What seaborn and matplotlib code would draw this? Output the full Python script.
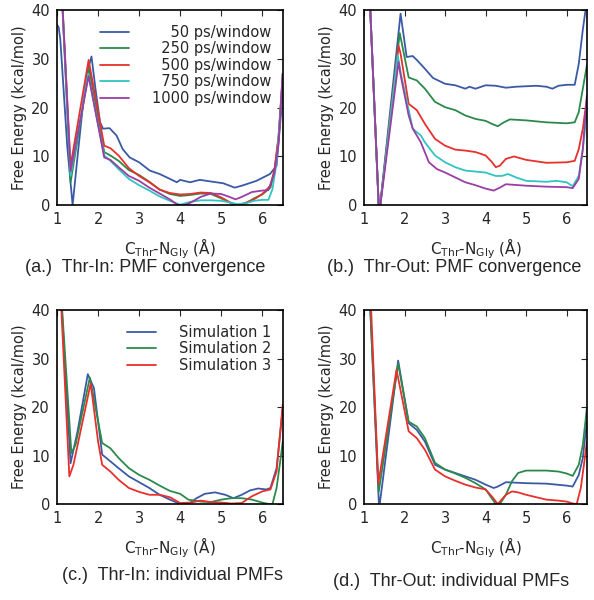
import matplotlib
matplotlib.use("Agg")
import matplotlib.pyplot as plt
import seaborn as sns
import pandas as pd

# ---- panel (a): Thr-In, PMF convergence ----
a50_x = [1.0, 1.04, 1.08, 1.15, 1.25, 1.38, 1.5, 1.65, 1.76, 1.79, 1.84, 1.95, 2.05, 2.12, 2.28, 2.45, 2.6, 2.77, 3.0, 3.26, 3.5, 3.75, 3.92, 4.0, 4.24, 4.48, 4.8, 5.05, 5.33, 5.54, 5.86, 6.19, 6.35, 6.47, 6.5]
a50_y = [37, 36.5, 34, 25, 12, 0, 10, 22, 28.5, 29.0, 30.5, 23, 17, 15.7, 15.8, 14.3, 11.5, 9.8, 8.8, 7.1, 6.4, 5.4, 4.7, 5.2, 4.7, 5.2, 4.8, 4.5, 3.6, 4.1, 5.0, 6.4, 8.1, 20, 26]
a250_x = [1.08, 1.33, 1.78, 2.15, 2.3, 2.5, 2.75, 3.0, 3.25, 3.5, 3.75, 4.0, 4.25, 4.5, 4.75, 5.0, 5.25, 5.4, 5.6, 5.8, 6.0, 6.2, 6.3, 6.4, 6.5]
a250_y = [50, 4.7, 28, 10.9, 10.2, 9.1, 7.2, 6.2, 4.8, 3.2, 2.3, 1.9, 2.1, 2.4, 2.3, 1.4, 0.4, 0.0, 0.4, 1.4, 2.2, 3.6, 7.0, 14.0, 26]
a500_x = [1.08, 1.33, 1.77, 2.15, 2.3, 2.5, 2.75, 3.0, 3.25, 3.5, 3.75, 4.0, 4.25, 4.5, 4.75, 5.0, 5.25, 5.4, 5.6, 5.8, 6.0, 6.2, 6.3, 6.4, 6.5]
a500_y = [50, 8.1, 29.8, 12.2, 11.7, 10.2, 7.6, 6.0, 4.7, 3.2, 2.5, 2.2, 2.3, 2.6, 2.5, 1.6, 0.4, 0.0, 0.5, 1.2, 2.3, 4.0, 7.4, 14.3, 27]
a750_x = [1.08, 1.33, 1.76, 2.15, 2.3, 2.5, 2.75, 3.0, 3.25, 3.5, 3.75, 4.0, 4.25, 4.5, 4.75, 5.0, 5.25, 5.4, 5.6, 5.8, 6.0, 6.15, 6.25, 6.35, 6.45, 6.5]
a750_y = [50, 6.0, 27, 10.2, 9.1, 7.4, 5.4, 4.1, 3.0, 1.8, 0.9, 0.1, 0.7, 1.0, 1.0, 0.9, 0.5, 0.2, 0.4, 0.9, 1.1, 1.1, 3.3, 8.8, 20, 27]
a1000_x = [1.08, 1.33, 1.77, 2.15, 2.3, 2.5, 2.75, 3.0, 3.25, 3.5, 3.75, 3.95, 4.1, 4.25, 4.5, 4.75, 5.0, 5.2, 5.35, 5.5, 5.75, 6.0, 6.15, 6.3, 6.4, 6.5]
a1000_y = [50, 7.0, 26.5, 9.8, 9.3, 7.8, 6.0, 5.0, 3.6, 2.4, 1.2, 0.0, 0.0, 0.5, 1.7, 2.4, 2.3, 1.7, 1.2, 1.7, 2.7, 3.0, 3.1, 6.7, 12.9, 27]

# ---- panel (b): Thr-Out, PMF convergence ----
b50_x = [1.1, 1.37, 1.9, 2.05, 2.2, 2.3, 2.5, 2.7, 3.0, 3.25, 3.5, 3.6, 3.75, 4.0, 4.25, 4.5, 4.75, 5.0, 5.25, 5.5, 5.65, 5.8, 6.0, 6.2, 6.3, 6.4, 6.5]
b50_y = [50, -2, 39.3, 30.4, 30.6, 29.8, 28.0, 26.1, 24.9, 24.6, 23.9, 24.3, 23.9, 24.6, 24.5, 24.1, 24.3, 24.4, 24.5, 24.3, 23.9, 24.5, 24.7, 24.7, 29.0, 36.0, 42]
b250_x = [1.1, 1.37, 1.88, 2.1, 2.3, 2.5, 2.75, 3.0, 3.25, 3.5, 3.75, 4.0, 4.15, 4.3, 4.45, 4.6, 5.0, 5.5, 6.0, 6.2, 6.3, 6.4, 6.5]
b250_y = [50, -2, 35.3, 26.2, 25.6, 23.9, 21.2, 20.1, 19.5, 18.4, 17.7, 17.3, 16.7, 16.2, 17.0, 17.6, 17.4, 17.0, 16.8, 17.0, 19.1, 23.9, 28.7]
b500_x = [1.1, 1.37, 1.85, 1.9, 2.1, 2.3, 2.5, 2.75, 3.0, 3.25, 3.5, 3.75, 4.0, 4.15, 4.25, 4.35, 4.5, 4.7, 5.0, 5.5, 6.0, 6.2, 6.3, 6.4, 6.5]
b500_y = [50, -2, 32.7, 31.1, 20.8, 19.5, 16.7, 13.6, 12.2, 11.4, 11.2, 10.9, 10.2, 8.9, 7.8, 8.1, 9.5, 10.0, 9.3, 8.7, 8.8, 9.1, 11.5, 15.7, 21.9]
b750_x = [1.1, 1.37, 1.83, 1.9, 2.2, 2.4, 2.5, 2.75, 3.0, 3.25, 3.5, 4.0, 4.25, 4.4, 4.55, 4.75, 5.0, 5.5, 5.75, 6.0, 6.15, 6.3, 6.4, 6.5]
b750_y = [50, -2, 30.8, 27.3, 15.7, 14.3, 12.9, 10.2, 8.8, 7.8, 7.1, 6.7, 6.0, 6.0, 6.4, 5.7, 5.0, 4.8, 5.0, 4.7, 3.9, 6.0, 11.5, 19.1]
b1000_x = [1.1, 1.37, 1.85, 1.9, 2.1, 2.2, 2.4, 2.6, 2.8, 3.0, 3.25, 3.5, 3.75, 4.0, 4.2, 4.35, 4.5, 5.0, 5.5, 6.0, 6.15, 6.3, 6.4, 6.5]
b1000_y = [50, -2, 29.4, 26.7, 18.4, 15.7, 12.9, 8.8, 7.4, 6.7, 5.7, 4.7, 4.1, 3.4, 3.0, 3.6, 4.3, 4.0, 3.8, 3.7, 3.5, 5.4, 11.5, 22.5]

# ---- panel (c): Thr-In, individual PMFs ----
c1_x = [1.05, 1.33, 1.5, 1.75, 1.9, 2.1, 2.3, 2.5, 2.75, 3.0, 3.25, 3.5, 3.75, 4.0, 4.2, 4.4, 4.6, 4.85, 5.1, 5.3, 5.5, 5.7, 5.9, 6.1, 6.2, 6.35, 6.5]
c1_y = [50, 8.4, 15, 26.8, 23.9, 10.2, 8.8, 7.4, 5.7, 4.5, 3.3, 1.9, 0.9, 0.0, 0.0, 1.2, 2.1, 2.4, 1.9, 1.2, 1.9, 2.8, 3.2, 3.0, 3.3, 7.4, 19.8]
c2_x = [1.05, 1.35, 1.45, 1.8, 2.1, 2.3, 2.5, 2.75, 3.0, 3.25, 3.5, 3.75, 4.0, 4.2, 4.35, 4.5, 4.75, 5.0, 5.25, 5.5, 5.75, 6.0, 6.15, 6.25, 6.35, 6.45, 6.5]
c2_y = [50, 10.5, 12.2, 26.1, 12.6, 11.5, 9.5, 7.4, 6.0, 5.0, 3.8, 2.7, 2.1, 0.9, 0.7, 0.5, 0.4, 0.9, 1.2, 1.2, 0.9, 0.3, 0.0, 0.0, 3.3, 9.5, 12.9]
c3_x = [1.05, 1.3, 1.4, 1.82, 2.0, 2.1, 2.3, 2.5, 2.75, 3.0, 3.25, 3.5, 3.75, 4.0, 4.25, 4.5, 4.75, 5.0, 5.25, 5.5, 5.75, 6.0, 6.2, 6.35, 6.5]
c3_y = [50, 5.7, 8.1, 24.9, 12.9, 8.1, 6.7, 5.0, 3.3, 2.5, 1.9, 1.9, 1.4, 0.2, 0.3, 0.7, 0.4, 0.3, 0.1, 0.2, 1.6, 2.6, 3.0, 6.7, 20.5]

# ---- panel (d): Thr-Out, individual PMFs ----
d1_x = [1.1, 1.37, 1.84, 2.1, 2.3, 2.5, 2.75, 3.0, 3.25, 3.5, 3.75, 4.0, 4.2, 4.3, 4.5, 5.0, 5.5, 6.0, 6.15, 6.3, 6.4, 6.5]
d1_y = [50, -1, 29.6, 16.7, 15.3, 12.9, 8.1, 7.1, 6.4, 5.7, 5.0, 4.0, 3.3, 3.6, 4.5, 4.3, 4.2, 3.8, 3.6, 6.0, 9.5, 17.0]
d2_x = [1.1, 1.36, 1.84, 2.1, 2.3, 2.5, 2.75, 3.0, 3.25, 3.5, 3.75, 4.0, 4.15, 4.25, 4.35, 4.5, 4.65, 4.8, 5.0, 5.5, 5.8, 6.0, 6.15, 6.3, 6.4, 6.5]
d2_y = [50, 2.5, 29.0, 17.0, 16.0, 13.6, 8.5, 7.1, 6.3, 5.4, 4.3, 3.0, 1.2, 0.0, 0.0, 1.9, 4.7, 6.4, 6.9, 6.9, 6.7, 6.3, 5.8, 8.1, 12.2, 19.8]
d3_x = [1.1, 1.35, 1.8, 2.1, 2.3, 2.5, 2.75, 3.0, 3.25, 3.5, 3.75, 4.0, 4.15, 4.3, 4.5, 4.65, 4.8, 5.0, 5.5, 5.8, 6.0, 6.15, 6.25, 6.35, 6.45, 6.5]
d3_y = [55, 4.2, 27.7, 15.0, 13.6, 11.2, 7.1, 5.7, 4.8, 4.0, 3.4, 3.0, 1.6, 0.0, 1.9, 2.6, 2.4, 1.9, 0.9, 0.7, 0.5, 0.1, 0.0, 3.3, 9.5, 12.9]

conv_labels = ["50 ps/window", "250 ps/window", "500 ps/window", "750 ps/window", "1000 ps/window"]
sim_labels = ["Simulation 1", "Simulation 2", "Simulation 3"]
captions = ["(a.)  Thr-In: PMF convergence", "(b.)  Thr-Out: PMF convergence",
            "(c.)  Thr-In: individual PMFs", "(d.)  Thr-Out: individual PMFs"]

colors = ["#3b5aa6", "#2b8a4b", "#e8302c", "#31c4c0", "#9a3ea4"]


def make_frame(series, labels):
    parts = []
    for (x, y), lab in zip(series, labels):
        parts.append(pd.DataFrame({"x": x, "y": y, "series": lab}))
    return pd.concat(parts, ignore_index=True)


def draw_panel(ax, df, labels, show_legend, legend_anchor):
    sns.lineplot(data=df, x="x", y="y", hue="series", hue_order=labels,
                 palette=colors[:len(labels)], estimator=None,
                 linewidth=1.3, ax=ax, legend=show_legend)
    ax.set_xlim(1, 6.5)
    ax.set_ylim(0, 40)
    ax.set_xticks([1, 2, 3, 4, 5, 6])
    ax.set_yticks([0, 10, 20, 30, 40])
    ax.tick_params(direction="in", top=True, right=True, length=4,
                   width=0.8, labelsize=10.5, pad=5)
    for sp in ax.spines.values():
        sp.set_linewidth(1.2)
        sp.set_color("black")
    ax.set_xlabel(r"C$_{\mathrm{Thr}}$-N$_{\mathrm{Gly}}$ ($\mathrm{\AA}$)", fontsize=11, labelpad=7)
    ax.set_ylabel("Free Energy (kcal/mol)", fontsize=10.5, labelpad=3)
    if show_legend:
        handles, labs = ax.get_legend_handles_labels()
        # right-justify the legend texts the way the original key does
        longest = max(len(s) for s in labs)
        labs = [" " * (2 * (longest - len(s))) + s for s in labs]
        ax.legend(handles, labs, loc="upper right", bbox_to_anchor=legend_anchor,
                  frameon=False, fontsize=10.5, handlelength=2.0,
                  labelspacing=0.1, handletextpad=1.6, borderaxespad=0.2)


sns.set_style("white")
plt.rcParams["font.family"] = ["DejaVu Sans"]

fig = plt.figure(figsize=(5.94, 6.0), dpi=100)
ax_a = fig.add_axes([0.096, 0.658, 0.380, 0.325])
ax_b = fig.add_axes([0.613, 0.658, 0.375, 0.325])
ax_c = fig.add_axes([0.096, 0.160, 0.380, 0.323])
ax_d = fig.add_axes([0.613, 0.160, 0.375, 0.323])

df_a = make_frame([(a50_x, a50_y), (a250_x, a250_y), (a500_x, a500_y),
                   (a750_x, a750_y), (a1000_x, a1000_y)], conv_labels)
df_b = make_frame([(b50_x, b50_y), (b250_x, b250_y), (b500_x, b500_y),
                   (b750_x, b750_y), (b1000_x, b1000_y)], conv_labels)
df_c = make_frame([(c1_x, c1_y), (c2_x, c2_y), (c3_x, c3_y)], sim_labels)
df_d = make_frame([(d1_x, d1_y), (d2_x, d2_y), (d3_x, d3_y)], sim_labels)

draw_panel(ax_a, df_a, conv_labels, True, (0.99, 0.97))
draw_panel(ax_b, df_b, conv_labels, False, None)
draw_panel(ax_c, df_c, sim_labels, True, (0.99, 0.97))
draw_panel(ax_d, df_d, sim_labels, False, None)

cap_pos = [(145, 268), (454, 268), (172, 575), (451, 582)]
for (px, py), cap in zip(cap_pos, captions):
    fig.text(px / 594, 1 - py / 600, cap, ha="center", va="center",
             fontsize=13, family="Liberation Sans")

fig.savefig("out.png", dpi=100)
